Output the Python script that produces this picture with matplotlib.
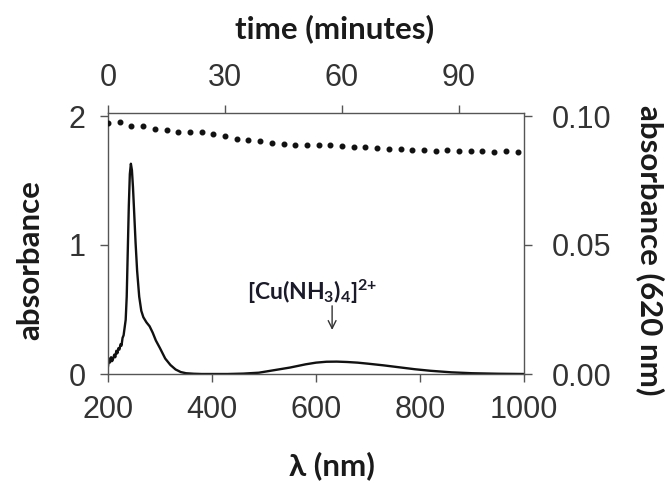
import matplotlib
matplotlib.use("Agg")
import matplotlib.pyplot as plt

# ---- data ----
wavelength_nm = [200, 202, 204, 206, 208, 210, 212, 214, 216, 218, 220, 222, 224, 226, 228,
                 230, 232, 234, 236, 238, 240, 242, 244, 246, 248, 250, 253, 256, 260, 264,
                 268, 274, 280, 286, 292, 300, 310, 320, 330, 340, 350, 365, 380, 400, 430,
                 460, 490, 520, 550, 580, 600, 620, 640, 660, 680, 700, 730, 760, 790, 820,
                 860, 900, 950, 1000]
absorbance = [0.06, 0.12, 0.09, 0.13, 0.10, 0.12, 0.15, 0.13, 0.18, 0.16, 0.20, 0.19, 0.23, 0.22, 0.28,
              0.30, 0.36, 0.42, 0.60, 0.95, 1.30, 1.55, 1.63, 1.58, 1.45, 1.28, 1.02, 0.80, 0.60, 0.49,
              0.44, 0.40, 0.37, 0.32, 0.26, 0.20, 0.12, 0.07, 0.035, 0.015, 0.006, 0.002, 0.0, 0.0, 0.0,
              0.003, 0.01, 0.03, 0.05, 0.075, 0.088, 0.095, 0.096, 0.093, 0.088, 0.08, 0.067, 0.052, 0.037, 0.025,
              0.013, 0.006, 0.002, 0.0]

time_min = [0, 3, 6, 9, 12, 15, 18, 21, 24, 27, 30, 33, 36, 39, 42, 45, 48, 51, 54, 57,
            60, 63, 66, 69, 72, 75, 78, 81, 84, 87, 90, 93, 96, 99, 102, 105]
abs_620 = [0.0974, 0.0975, 0.0962, 0.0962, 0.0950, 0.0944, 0.0939, 0.0937, 0.0938, 0.0930,
           0.0922, 0.0911, 0.0907, 0.0903, 0.0895, 0.0890, 0.0888, 0.0886, 0.0886, 0.0888,
           0.0884, 0.0880, 0.0880, 0.0875, 0.0872, 0.0872, 0.0867, 0.0870, 0.0866, 0.0868,
           0.0866, 0.0864, 0.0863, 0.0862, 0.0863, 0.0862]

x_ticks = [200, 400, 600, 800, 1000]
y_ticks = [0, 1, 2]
t_ticks = [0, 30, 60, 90]
r_ticks = [0.00, 0.05, 0.10]
r_labels = ["0.00", "0.05", "0.10"]

# ---- style ----
plt.rcParams['font.family'] = ['Liberation Sans', 'DejaVu Sans']
plt.rcParams['mathtext.fontset'] = 'custom'
plt.rcParams['mathtext.rm'] = 'Lato:bold'
plt.rcParams['mathtext.it'] = 'Lato:bold'
plt.rcParams['mathtext.bf'] = 'Lato:bold'
plt.rcParams['mathtext.default'] = 'rm'

W, H = 667, 483
fig = plt.figure(figsize=(W / 100, H / 100), dpi=100)
left, right, bottom, top = 108, 524, 374, 113
pos = [left / W, 1 - bottom / H, (right - left) / W, (bottom - top) / H]

axis_col = '#555555'
tick_col = '#333333'
tick_fs = 22

ax = fig.add_axes(pos)
ax.plot(wavelength_nm, absorbance, color='#111111', lw=1.7)
ax.set_xlim(200, 1000)
ax.set_ylim(0, (bottom - top) / 129.0)
ax.set_xticks(x_ticks)
ax.set_yticks(y_ticks)
for s in ax.spines.values():
    s.set_color(axis_col)
    s.set_linewidth(1.0)
ax.tick_params(direction='out', length=6, width=1, color=axis_col, labelsize=tick_fs,
               labelcolor=tick_col)
ax.tick_params(axis='x', pad=9)
ax.tick_params(axis='y', pad=10)

ax2 = fig.add_axes(pos, frameon=False)
ax2.plot(time_min, abs_620, linestyle='none', marker='o', markersize=3.3, color='#111111')
ax2.set_xlim(0, (right - left) / 117.0 * 30)
ax2.set_ylim(0, (bottom - top) / 129.0 * 0.05)
ax2.xaxis.tick_top()
ax2.yaxis.tick_right()
ax2.set_xticks(t_ticks)
ax2.set_yticks(r_ticks)
ax2.set_yticklabels(r_labels)
ax2.tick_params(direction='out', length=6, width=1, color=axis_col, labelsize=tick_fs,
                labelcolor=tick_col)
ax2.tick_params(axis='x', pad=8.5)
ax2.tick_params(axis='y', pad=14)
ax2.patch.set_visible(False)

label_kw = dict(family=['Lato', 'DejaVu Sans'], fontweight='bold', fontsize=22.5, color='#1a1a1a')
fig.text(335 / W, 1 - 29 / H, 'time (minutes)', ha='center', va='center', **label_kw)
fig.text(332 / W, 1 - 466 / H, 'λ (nm)', ha='center', va='center', **label_kw)
fig.text(30 / W, 1 - 260 / H, 'absorbance', ha='center', va='center', rotation=90, **label_kw)
fig.text(650 / W, 1 - 250 / H, 'absorbance (620 nm)', ha='center', va='center', rotation=270, **label_kw)

ax.text(592, 0.57, r'$[\mathrm{Cu(NH_3)_4}]^{2{+}}$', ha='center', va='baseline', fontsize=16.5,
        color='#1a1a2a')
ax.annotate('', xy=(631, 0.32), xytext=(631, 0.55),
            arrowprops=dict(arrowstyle='->', lw=1.0, color='#333333', mutation_scale=14))

fig.savefig('out.png', dpi=100)
